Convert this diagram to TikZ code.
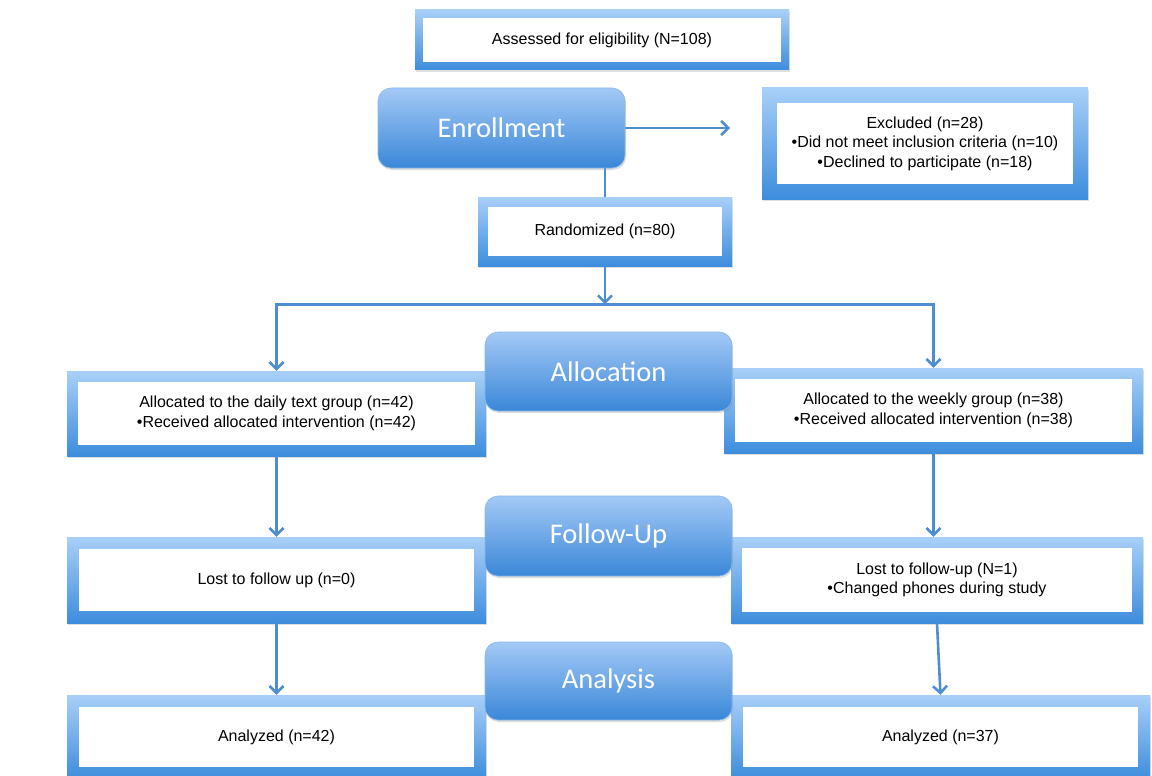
\documentclass[tikz,border=0pt]{standalone}
\usepackage{fontspec}
\setmainfont{Liberation Sans}
\newfontfamily\stagefont{Carlito}
\usetikzlibrary{arrows.meta,shadows}
\definecolor{frametop}{HTML}{A8CFF8}
\definecolor{framebot}{HTML}{3D8DDD}
\definecolor{stagetop}{HTML}{A3C9F6}
\definecolor{stagebot}{HTML}{3A87D8}
\definecolor{linkblue}{HTML}{4E8ED0}

\begin{document}
\begin{tikzpicture}[
    x=1pt, y=-1pt,
    auto,
    frame/.style={
      rectangle,
      inner sep=0pt,
      top color=frametop,
      bottom color=framebot,
      drop shadow={shadow xshift=1pt,shadow yshift=-2pt,opacity=0.25},
      font=\fontsize{16}{19.5}\selectfont,
      align=center,
      path picture={\fill[white]
        ([shift={(#1pt,-#1pt)}]path picture bounding box.north west) rectangle
        ([shift={(-#1pt,#1pt)}]path picture bounding box.south east);}
    },
    frame/.default=11,
    stage/.style={
      rectangle,
      rounded corners=13pt,
      inner sep=0pt,
      top color=stagetop,
      bottom color=stagebot,
      draw=stagebot!60!white,
      line width=0.6pt,
      drop shadow={shadow xshift=1pt,shadow yshift=-2pt,opacity=0.25},
      text=white,
      font=\stagefont\fontsize{28.5}{30}\selectfont,
      minimum width=247pt,
      minimum height=80pt
    },
    link/.style={
      draw=linkblue,
      line width=2.6pt,
      -{Straight Barb[length=7pt,width=14pt]}
    }]

    \useasboundingbox (0,0) rectangle (1152,776);

    % screening
    \draw (602,40) node[frame=8, minimum width=374pt, minimum height=60pt] (A)
      {Assessed for eligibility (N=108)};
    \draw (925,143.5) node[frame=15, minimum width=326pt, minimum height=111pt] (X)
      {Excluded (n=28)\\ \textbullet Did not meet inclusion criteria (n=10)\\ \textbullet Declined to participate (n=18)};
    \draw (605,231.5) node[frame=10, minimum width=254pt, minimum height=69pt] (R)
      {Randomized (n=80)};

    % allocation boxes
    \draw (276.5,413.5) node[frame, minimum width=419pt, minimum height=85pt] (D1)
      {Allocated to the daily text group (n=42)\\ \textbullet Received allocated intervention (n=42)};
    \draw (933.5,410.5) node[frame, minimum width=419pt, minimum height=85pt] (W1)
      {Allocated to the weekly group (n=38)\\ \textbullet Received allocated intervention (n=38)};

    % follow-up boxes
    \draw (276.5,580) node[frame=12, minimum width=419pt, minimum height=86pt] (D2)
      {Lost to follow up (n=0)};
    \draw (937,580) node[frame, minimum width=412pt, minimum height=86pt] (W2)
      {Lost to follow-up (N=1)\\ \textbullet Changed phones during study};

    % analysis boxes
    \draw (276.5,737) node[frame=12, minimum width=419pt, minimum height=84pt] (D3)
      {Analyzed (n=42)};
    \draw (940.5,737) node[frame=12, minimum width=419pt, minimum height=84pt] (W3)
      {Analyzed (n=37)};

    % lines
    \coordinate (split) at ([yshift=-38pt]R.south);
    \draw[link, shorten >=32pt] (501.5,128) -- (762,128);
    \draw[link, -] (R.north |- 0,168) -- (R.north);
    \draw[link] (R.south) -- (split);
    \draw[link] (split) -| (D1.north);
    \draw[link] (split) -| (W1.north);
    \draw[link] (D1.south) -- (D2.north);
    \draw[link] (W1.south) -- (W1.south |- W2.north);
    \draw[link] (D2.south) -- (D3.north);
    \draw[link] (W2.south) -- (W3.north);

    % stages
    \draw (501.5,128) node[stage] (En) {Enrollment};
    \draw (608.5,371.5) node[stage, minimum height=79pt] (Al) {Allocation};
    \draw (608.5,536) node[stage] (Fu) {Follow-Up};
    \draw (608.5,681) node[stage, minimum height=78pt] (An) {Analysis};
  \end{tikzpicture}
\end{document}
